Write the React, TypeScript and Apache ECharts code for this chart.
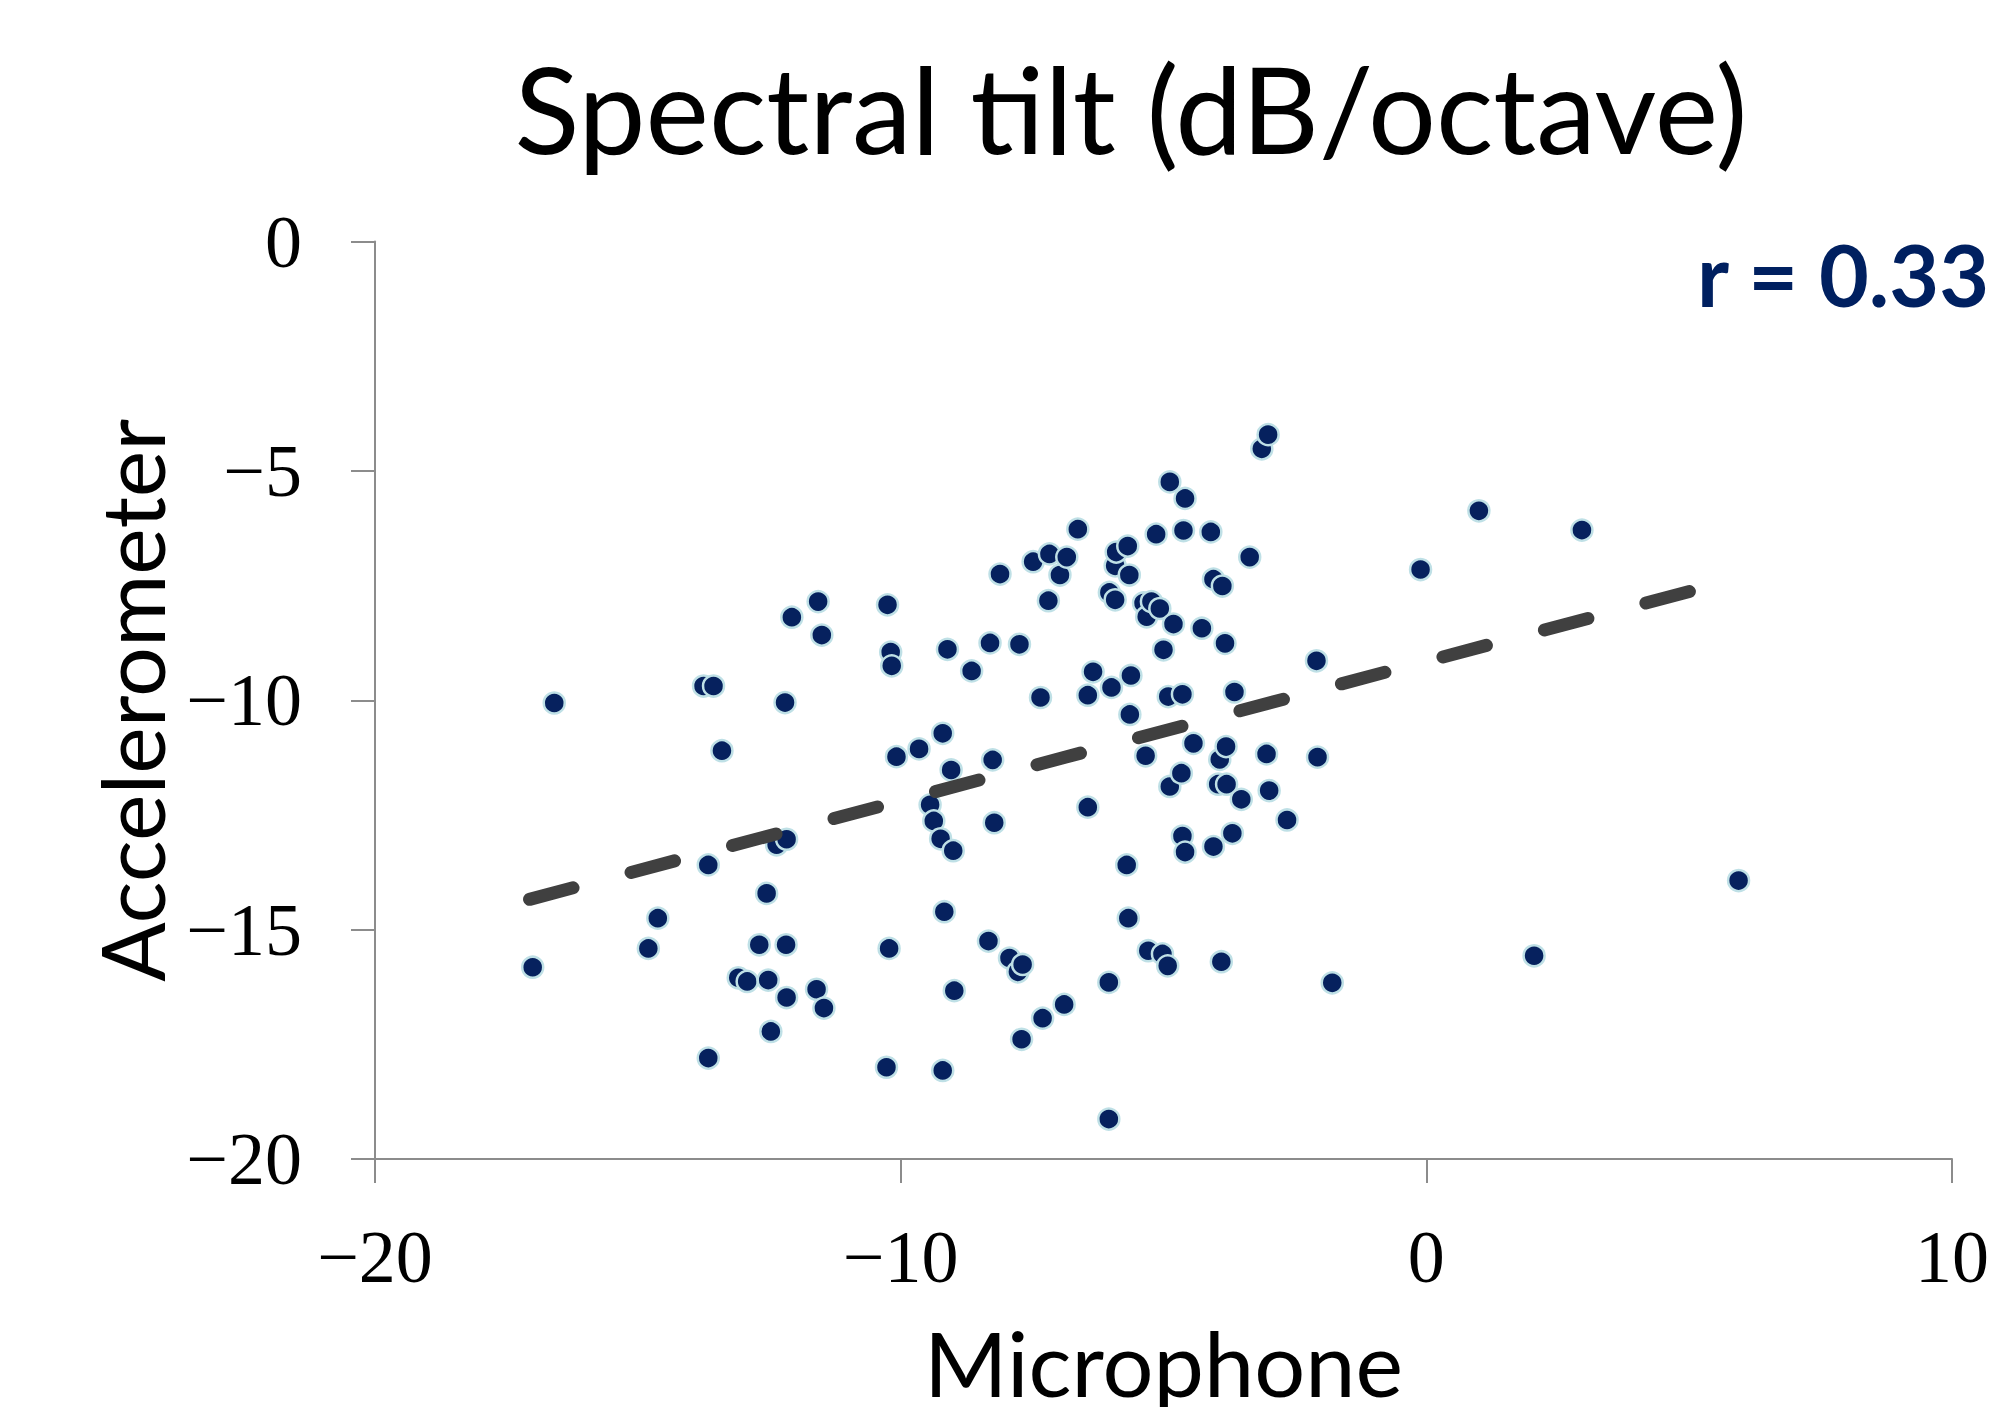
import React, { useEffect, useRef } from "react";
import * as echarts from "echarts";

const titleText = "Spectral tilt (dB/octave)";
const corrText = "r = 0.33";
const xAxisTitle = "Microphone";
const yAxisTitle = "Accelerometer";

const xTicks = { min: -20, max: 10, interval: 10 };
const yTicks = { min: -20, max: 0, interval: 5 };

const micX = [
  -16.59, -17.0, -14.8, -14.62, -13.66, -13.66, -13.75, -13.56, -13.4, -13.09,
  -12.92, -12.69, -12.55, -12.52, -12.47, -12.36, -12.17, -12.2, -12.18, -12.17,
  -12.07, -11.57, -11.5, -11.6, -11.46, -10.25, -10.19, -10.17, -10.08, -10.22,
  -10.27, -9.65, -9.44, -9.37, -9.24, -9.2, -9.11, -9.04, -9.17, -9.2,
  -9.0, -8.98, -8.65, -8.3, -8.25, -8.22, -8.11, -8.33, -7.93, -7.77,
  -7.68, -7.74, -7.7, -7.48, -7.34, -7.3, -7.19, -7.17, -6.97, -6.84,
  -6.89, -6.63, -6.44, -6.44, -6.34, -6.03, -5.99, -6.04, -6.04, -5.92,
  -5.92, -5.9, -5.68, -5.65, -5.7, -5.64, -5.62, -5.67, -5.38, -5.32,
  -5.23, -5.07, -5.34, -5.29, -5.14, -5.02, -5.0, -4.91, -4.92, -4.88,
  -4.88, -4.81, -4.66, -4.64, -4.62, -4.59, -4.64, -4.59, -4.43, -4.27,
  -4.1, -4.05, -4.05, -3.96, -3.93, -3.9, -3.88, -3.83, -3.81, -3.8,
  -3.69, -3.65, -3.52, -3.36, -3.13, -3.01, -3.04, -2.99, -2.65, -2.09,
  -2.07, -1.79, -0.11, 1.0, 2.05, 2.96, 5.94,
];

const accY = [
  -10.06, -15.82, -15.41, -14.75, -13.59, -17.8, -9.69, -9.69, -11.1, -16.05,
  -16.13, -15.33, -14.21, -16.1, -17.22, -13.15, -13.03, -10.05, -15.33, -16.48,
  -8.19, -7.85, -8.58, -16.3, -16.71, -7.92, -8.95, -9.25, -11.23, -15.41,
  -18.0, -11.06, -12.28, -12.63, -13.02, -10.72, -8.89, -11.52, -14.61, -18.07,
  -13.28, -16.33, -9.36, -8.75, -11.3, -12.67, -7.25, -15.25, -15.62, -15.92,
  -15.76, -8.78, -17.39, -6.98, -9.94, -16.93, -7.83, -6.81, -7.27, -6.88,
  -16.63, -6.27, -12.33, -9.89, -9.38, -7.65, -9.72, -16.15, -19.13, -7.07,
  -7.81, -6.77, -6.64, -7.27, -13.59, -10.31, -9.46, -14.75, -7.88, -8.18,
  -7.85, -8.0, -11.21, -15.46, -6.38, -15.53, -8.9, -9.92, -15.79, -11.88,
  -5.24, -8.34, -11.59, -9.87, -6.3, -5.6, -12.96, -13.31, -10.94, -8.43,
  -6.33, -7.36, -13.19, -11.83, -11.29, -15.7, -7.51, -8.76, -11.01, -11.83,
  -12.9, -9.82, -12.16, -6.88, -4.52, -4.21, -11.17, -11.97, -12.61, -9.14,
  -11.24, -16.16, -7.15, -5.87, -15.57, -6.29, -13.93,
];

const trendX = [-17.06, 5.2];
const trendY = [-14.34, -7.57];

const fmtMinus = (v: number) => (v < 0 ? "\u2212" + Math.abs(v) : String(v));

export default function App() {
  const ref = useRef<HTMLDivElement>(null);
  useEffect(() => {
    if (!ref.current) return;
    const chart = echarts.init(ref.current, undefined, { renderer: "svg" });
    const axisColor = "#8c8c8c";
    const tickFont = {
      fontFamily: "Liberation Serif",
      fontSize: 74,
      color: "#000",
    };
    chart.setOption({
      animation: false,
      backgroundColor: "#fff",
      grid: {
        left: 375,
        right: 41,
        top: 241.5,
        bottom: 248,
        containLabel: false,
        outerBoundsMode: "none",
      },
      xAxis: {
        type: "value",
        min: xTicks.min,
        max: xTicks.max,
        interval: xTicks.interval,
        name: xAxisTitle,
        nameLocation: "middle",
        nameGap: 158,
        nameTextStyle: { fontFamily: "Lato", fontSize: 90, color: "#000" },
        axisLine: { show: true, onZero: false, lineStyle: { color: axisColor, width: 2 } },
        axisTick: { show: true, length: 24, inside: false, lineStyle: { color: axisColor, width: 2 } },
        splitLine: { show: false },
        axisLabel: { ...tickFont, margin: 61, formatter: fmtMinus },
      },
      yAxis: {
        type: "value",
        min: yTicks.min,
        max: yTicks.max,
        interval: yTicks.interval,
        name: yAxisTitle,
        nameLocation: "middle",
        nameGap: 181,
        nameRotate: 90,
        nameTextStyle: { fontFamily: "Lato", fontSize: 88, color: "#000" },
        axisLine: { show: true, onZero: false, lineStyle: { color: axisColor, width: 2 } },
        axisTick: { show: true, length: 24, inside: false, lineStyle: { color: axisColor, width: 2 } },
        splitLine: { show: false },
        axisLabel: { ...tickFont, margin: 73, formatter: fmtMinus },
      },
      graphic: [
        {
          type: "text",
          x: 1131,
          y: 168,
          style: {
            text: titleText,
            fontFamily: "Lato",
            fontSize: 120,
            fill: "#000",
            align: "center",
            verticalAlign: "bottom",
          },
        },
        {
          type: "text",
          x: 1697,
          y: 316,
          style: {
            text: corrText,
            fontFamily: "Lato",
            fontWeight: "bold",
            fontSize: 86,
            fill: "#002060",
            align: "left",
            verticalAlign: "bottom",
          },
        },
      ],
      series: [
        {
          type: "scatter",
          data: micX.map((x, i) => [x, accY[i]]),
          symbol: "circle",
          symbolSize: 21,
          itemStyle: { color: "#06215e", borderColor: "#bfe0e6", borderWidth: 2.5, opacity: 1 },
          z: 2,
        },
        {
          type: "line",
          data: trendX.map((x, i) => [x, trendY[i]]),
          symbol: "none",
          lineStyle: { color: "#404040", width: 13, type: [45, 60], cap: "round" },
          z: 3,
        },
      ],
    });
    return () => chart.dispose();
  }, []);
  return (
    <div
      ref={ref}
      style={{ position: "fixed", left: 0, top: 0, width: 1993, height: 1407, background: "#fff" }}
    />
  );
}
